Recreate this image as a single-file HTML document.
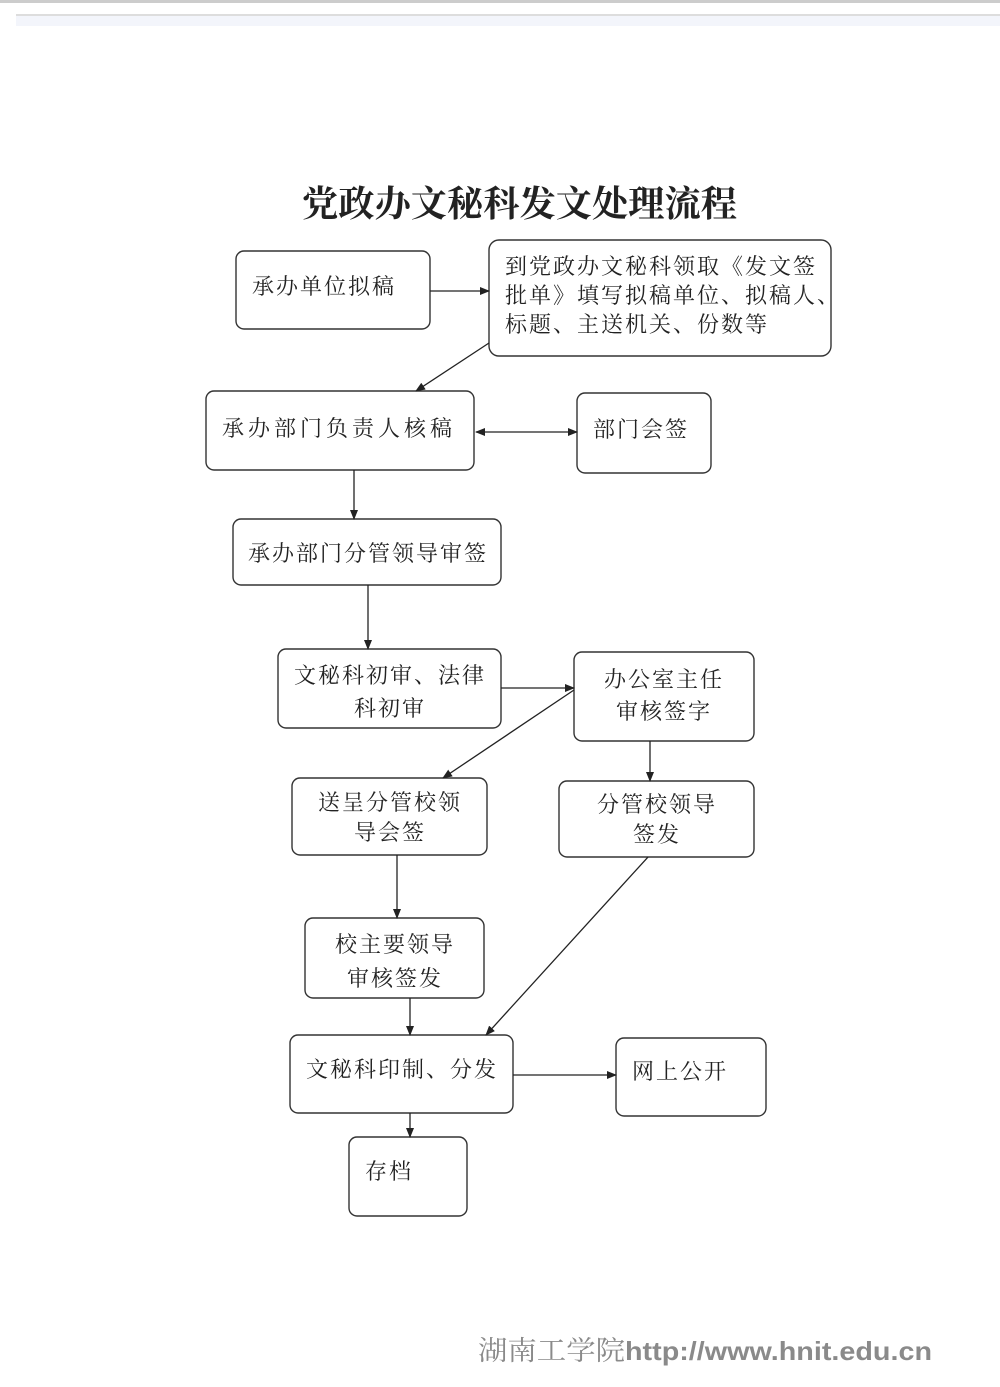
<!DOCTYPE html>
<html><head><meta charset="utf-8"><style>
html,body{margin:0;padding:0;background:#fff;}
svg{display:block;}
text{font-family:"Liberation Serif","Noto Serif CJK SC","Noto Sans CJK SC",serif;fill:#222;}
</style></head><body>
<svg width="1000" height="1387" viewBox="0 0 1000 1387" xmlns="http://www.w3.org/2000/svg">
<defs><marker id="a" markerWidth="10" markerHeight="8" refX="9" refY="4" orient="auto" markerUnits="userSpaceOnUse"><path d="M0,0 L10,4 L0,8 z" fill="#222"/></marker>
<marker id="s" markerWidth="10" markerHeight="8" refX="1" refY="4" orient="auto" markerUnits="userSpaceOnUse"><path d="M10,0 L0,4 L10,8 z" fill="#222"/></marker></defs>
<rect x="0" y="0" width="1000" height="3" fill="#ccc"/>
<rect x="16" y="14" width="984" height="2" fill="#ddd"/>
<rect x="16" y="16" width="984" height="10" fill="#f3f5fb"/>
<text x="302" y="216" font-size="36" font-weight="bold" textLength="435" lengthAdjust="spacingAndGlyphs">党政办文秘科发文处理流程</text>
<g fill="none" stroke="#333" stroke-width="1.4">
<rect x="236" y="251" width="194" height="78" rx="8"/>
<rect x="489" y="240" width="342" height="116" rx="10"/>
<rect x="206" y="391" width="268" height="79" rx="8"/>
<rect x="577" y="393" width="134" height="80" rx="8"/>
<rect x="233" y="519" width="268" height="66" rx="8"/>
<rect x="278" y="649" width="223" height="79" rx="8"/>
<rect x="574" y="652" width="180" height="89" rx="8"/>
<rect x="292" y="778" width="195" height="77" rx="8"/>
<rect x="559" y="781" width="195" height="76" rx="8"/>
<rect x="305" y="918" width="179" height="80" rx="8"/>
<rect x="290" y="1035" width="223" height="78" rx="8"/>
<rect x="616" y="1038" width="150" height="78" rx="8"/>
<rect x="349" y="1137" width="118" height="79" rx="8"/>
</g>
<g stroke="#222" stroke-width="1.3" marker-end="url(#a)">
<line x1="430" y1="291" x2="489" y2="291"/>
<line x1="489" y1="343" x2="416" y2="391"/>
<line x1="476" y1="432" x2="577" y2="432" marker-start="url(#s)"/>
<line x1="354" y1="470" x2="354" y2="519"/>
<line x1="368" y1="585" x2="368" y2="649"/>
<line x1="501" y1="688" x2="574" y2="688"/>
<line x1="574" y1="690" x2="443" y2="778"/>
<line x1="650" y1="741" x2="650" y2="781"/>
<line x1="397" y1="855" x2="397" y2="918"/>
<line x1="410" y1="998" x2="410" y2="1035"/>
<line x1="648" y1="857" x2="486" y2="1035"/>
<line x1="513" y1="1075" x2="616" y2="1075"/>
<line x1="410" y1="1113" x2="410" y2="1137"/>
</g>
<g font-size="22" letter-spacing="2">
<text x="252" y="294">承办单位拟稿</text>
<text x="505" y="274">到党政办文秘科领取《发文签</text>
<text x="505" y="303">批单》填写拟稿单位、拟稿人、</text>
<text x="505" y="332">标题、主送机关、份数等</text>
<text x="222" y="436" letter-spacing="4">承办部门负责人核稿</text>
<text x="593" y="437">部门会签</text>
<text x="248" y="561">承办部门分管领导审签</text>
<text x="390" y="683" text-anchor="middle">文秘科初审、法律</text>
<text x="390" y="716" text-anchor="middle">科初审</text>
<text x="664" y="687" text-anchor="middle">办公室主任</text>
<text x="664" y="719" text-anchor="middle">审核签字</text>
<text x="390" y="810" text-anchor="middle">送呈分管校领</text>
<text x="390" y="840" text-anchor="middle">导会签</text>
<text x="657" y="812" text-anchor="middle">分管校领导</text>
<text x="657" y="842" text-anchor="middle">签发</text>
<text x="395" y="952" text-anchor="middle">校主要领导</text>
<text x="395" y="986" text-anchor="middle">审核签发</text>
<text x="306" y="1077">文秘科印制、分发</text>
<text x="632" y="1079">网上公开</text>
<text x="365" y="1179">存档</text>
</g>
<text x="478" y="1360" font-size="27" style="fill:#8a8a8a" textLength="147" lengthAdjust="spacingAndGlyphs">湖南工学院</text>
<text x="625" y="1360" font-size="26" font-weight="bold" style="fill:#8a8a8a;font-family:'Liberation Sans',sans-serif" textLength="307" lengthAdjust="spacingAndGlyphs">http://www.hnit.edu.cn</text>
</svg>
</body></html>
